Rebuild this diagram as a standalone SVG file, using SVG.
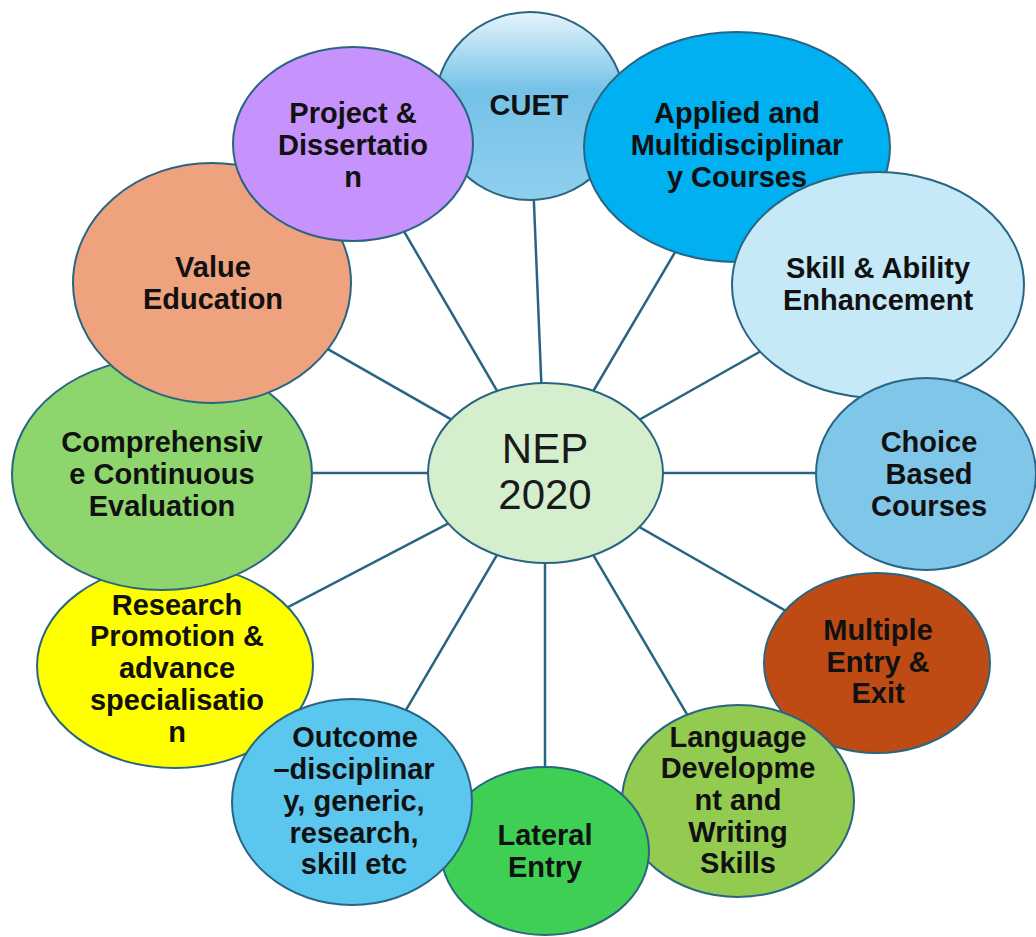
<svg xmlns="http://www.w3.org/2000/svg" width="1036" height="937" viewBox="0 0 1036 937">
<defs>
<linearGradient id="cuetGrad" x1="0" y1="0" x2="0" y2="1">
<stop offset="0" stop-color="#e6f4fb"/>
<stop offset="0.42" stop-color="#74c2e8"/>
<stop offset="1" stop-color="#90cfee"/>
</linearGradient>
</defs>
<style>
.node ellipse{stroke:#296583;stroke-width:2}
.node text{font-family:"Liberation Sans",Arial,sans-serif;font-weight:bold;font-size:29px;fill:#111;text-anchor:middle}
#connectors line{stroke:#296583;stroke-width:2.5}
#nep text{font-family:"Liberation Sans",Arial,sans-serif;font-weight:normal;font-size:42px;fill:#1a1a1a;text-anchor:middle}
</style>
<rect width="1036" height="937" fill="#ffffff"/>
<g id="connectors">
<line x1="545" y1="473" x2="530" y2="106"/>
<line x1="545" y1="473" x2="737" y2="147"/>
<line x1="545" y1="473" x2="878" y2="285"/>
<line x1="545" y1="473" x2="926" y2="473"/>
<line x1="545" y1="473" x2="877" y2="663"/>
<line x1="545" y1="473" x2="738" y2="801"/>
<line x1="545" y1="473" x2="545" y2="851"/>
<line x1="545" y1="473" x2="352" y2="802"/>
<line x1="545" y1="473" x2="175" y2="666"/>
<line x1="545" y1="473" x2="162" y2="473"/>
<line x1="545" y1="473" x2="212" y2="283"/>
<line x1="545" y1="473" x2="353" y2="144"/>
</g>
<g id="cuet" class="node">
<ellipse cx="530" cy="106" rx="95" ry="94" fill="url(#cuetGrad)"/>
<text x="529" y="115">CUET</text>
</g>
<g id="applied" class="node">
<ellipse cx="737" cy="147" rx="153" ry="115" fill="#00b0f0"/>
<text x="737" y="123">Applied and</text>
<text x="737" y="155">Multidisciplinar</text>
<text x="737" y="187">y Courses</text>
</g>
<g id="skill" class="node">
<ellipse cx="878" cy="285" rx="146" ry="113" fill="#c6e9f8"/>
<text x="878" y="278">Skill &amp; Ability</text>
<text x="878" y="310">Enhancement</text>
</g>
<g id="choice" class="node">
<ellipse cx="926" cy="474" rx="110" ry="96" fill="#80c6e8"/>
<text x="929" y="452">Choice</text>
<text x="929" y="484">Based</text>
<text x="929" y="516">Courses</text>
</g>
<g id="multiple" class="node">
<ellipse cx="877" cy="663" rx="113" ry="90" fill="#bf4b14"/>
<text x="878" y="640">Multiple</text>
<text x="878" y="672">Entry &amp;</text>
<text x="878" y="703">Exit</text>
</g>
<g id="language" class="node">
<ellipse cx="738" cy="801" rx="116" ry="96" fill="#92cb50"/>
<text x="738" y="747">Language</text>
<text x="738" y="778">Developme</text>
<text x="738" y="810">nt and</text>
<text x="738" y="842">Writing</text>
<text x="738" y="873">Skills</text>
</g>
<g id="lateral" class="node">
<ellipse cx="545" cy="851" rx="104" ry="84" fill="#3ecf54"/>
<text x="545" y="845">Lateral</text>
<text x="545" y="877">Entry</text>
</g>
<g id="research" class="node">
<ellipse cx="175" cy="666" rx="138" ry="102" fill="#ffff00"/>
<text x="177" y="615">Research</text>
<text x="177" y="646">Promotion &amp;</text>
<text x="177" y="678">advance</text>
<text x="177" y="710">specialisatio</text>
<text x="177" y="742">n</text>
</g>
<g id="outcome" class="node">
<ellipse cx="352" cy="802" rx="120" ry="103" fill="#5bc7ef"/>
<text x="355" y="747">Outcome</text>
<text x="354" y="779">–disciplinar</text>
<text x="354" y="811">y, generic,</text>
<text x="354" y="843">research,</text>
<text x="354" y="874">skill etc</text>
</g>
<g id="comprehensive" class="node">
<ellipse cx="162" cy="474" rx="150" ry="116" fill="#8dd56c"/>
<text x="162" y="452">Comprehensiv</text>
<text x="162" y="484">e Continuous</text>
<text x="162" y="516">Evaluation</text>
</g>
<g id="value" class="node">
<ellipse cx="212" cy="283" rx="139" ry="120" fill="#eea27e"/>
<text x="213" y="277">Value</text>
<text x="213" y="309">Education</text>
</g>
<g id="project" class="node">
<ellipse cx="353" cy="144" rx="120" ry="97" fill="#c593fb"/>
<text x="353" y="123">Project &amp;</text>
<text x="353" y="155">Dissertatio</text>
<text x="353" y="187">n</text>
</g>
<g id="nep" class="node">
<ellipse cx="545.5" cy="473" rx="117.5" ry="90" fill="#d5eecd"/>
<text x="545" y="463">NEP</text>
<text x="545" y="509">2020</text>
</g>
</svg>
